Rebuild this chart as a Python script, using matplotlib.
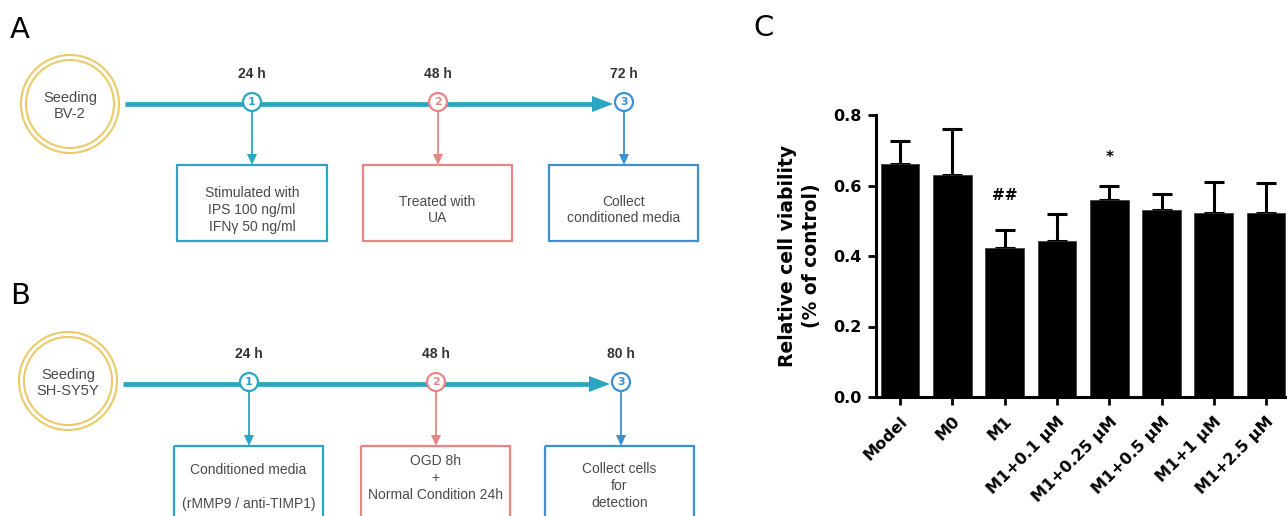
import matplotlib
matplotlib.use('Agg')
import matplotlib.pyplot as plt
from matplotlib.patches import Circle, Rectangle, Polygon

# ---- data ----
groups = ['Model', 'M0', 'M1', 'M1+0.1 μM', 'M1+0.25 μM', 'M1+0.5 μM', 'M1+1 μM', 'M1+2.5 μM']
viability = [0.662, 0.631, 0.424, 0.443, 0.560, 0.531, 0.521, 0.523]
err_up = [0.064, 0.129, 0.050, 0.075, 0.040, 0.044, 0.090, 0.084]
marks = {2: ('##', 0.573), 4: ('*', 0.680)}

times_a = ['24 h', '48 h', '72 h']
times_b = ['24 h', '48 h', '80 h']
boxes_a = ['Stimulated with\nIPS 100 ng/ml\nIFNγ 50 ng/ml', 'Treated with\nUA', 'Collect\nconditioned media']
boxes_b = ['Conditioned media\n\n(rMMP9 / anti-TIMP1)', 'OGD 8h\n+\nNormal Condition 24h',
           'Collect cells\nfor\ndetection']
seed_a = 'Seeding\nBV-2'
seed_b = 'Seeding\nSH-SY5Y'

# Colors
teal = '#2aa5c2'
pink = '#e98585'
blue = '#3b8fd3'
gold = '#ecca6a'
txt = '#4a4a4a'
node_colors = [teal, pink, blue]

narrow = ['Liberation Sans Narrow', 'Liberation Sans', 'DejaVu Sans']

fig = plt.figure(figsize=(12.87, 5.16), dpi=100)

# full-figure axes in pixel units for the schematics
bg = fig.add_axes([0, 0, 1, 1])
bg.set_xlim(0, 1287)
bg.set_ylim(516, 0)
bg.axis('off')


def timeline(y_line, cx, cy, seed, nodes_x, times, boxes, box_x, box_top, box_bot, arrow_tip, text_y):
    # double ring
    bg.add_patch(Circle((cx, cy), 49, fill=False, edgecolor=gold, linewidth=1.5))
    bg.add_patch(Circle((cx, cy), 44, fill=False, edgecolor=gold, linewidth=1.5))
    bg.text(cx, cy + 2, seed, ha='center', va='center', fontsize=10.5, color=txt,
            family=narrow, linespacing=1.15)

    # main arrow
    bg.plot([cx + 55, arrow_tip - 20], [y_line, y_line], color=teal, linewidth=3.4,
            solid_capstyle='butt', zorder=2)
    bg.add_patch(Polygon([[arrow_tip - 21, y_line - 8], [arrow_tip, y_line],
                          [arrow_tip - 21, y_line + 8]], closed=True,
                         facecolor=teal, edgecolor='none', zorder=2))

    for i, nx in enumerate(nodes_x):
        c = node_colors[i]
        bg.add_patch(Circle((nx, y_line - 2), 9, facecolor='white', edgecolor=c,
                            linewidth=1.6, zorder=3))
        bg.text(nx, y_line - 2, str(i + 1), ha='center', va='center', fontsize=8,
                fontweight='bold', color=c, zorder=4)
        bg.text(nx, y_line - 30, times[i], ha='center', va='center', fontsize=10,
                fontweight='bold', color='#333333', family=narrow)

        # vertical arrow down to the box
        x0, x1 = box_x[i]
        bx = (x0 + x1) / 2
        bg.plot([nx, nx], [y_line + 7, box_top - 10], color=c, linewidth=1.3, zorder=2)
        bg.add_patch(Polygon([[nx - 5, box_top - 11], [nx + 5, box_top - 11], [nx, box_top]],
                             closed=True, facecolor=c, edgecolor='none', zorder=2))

        bg.add_patch(Rectangle((x0, box_top), x1 - x0, box_bot - box_top, fill=False,
                               edgecolor=c, linewidth=1.6))
        bg.text(bx, text_y[i], boxes[i], ha='center', va='center', fontsize=10,
                color=txt, family=narrow, linespacing=1.25)


timeline(104, 70, 104, seed_a, [252, 438, 624], times_a, boxes_a,
         [(177, 327), (363, 512), (549, 698)], 165, 241, 613, [210, 210, 210])
timeline(384, 68, 381, seed_b, [249, 436, 621], times_b, boxes_b,
         [(174, 323), (361, 510), (545, 694)], 446, 530, 610, [487, 478, 486])

# panel letters
for lab, x, y in [('A', 20, 30), ('B', 20, 296), ('C', 764, 28)]:
    bg.text(x, y, lab, ha='center', va='center', fontsize=21, color='black')

# ---- bar chart ----
ax = fig.add_axes([876 / 1287, 1 - 397 / 516, 410 / 1287, (397 - 115) / 516])
xpos = list(range(len(groups)))
ax.bar(xpos, viability, width=0.74, color='black', edgecolor='#333333', linewidth=0.5, zorder=2)
ax.errorbar(xpos, viability, yerr=[[0] * len(groups), err_up], fmt='none', ecolor='black',
            elinewidth=2.2, capsize=7.5, capthick=2.2, zorder=1)
for i, (s, yv) in marks.items():
    ax.text(i, yv, s, ha='center', va='center', fontsize=11, fontweight='bold')

ax.set_xlim(-0.46, 7.38)
ax.set_ylim(0, 0.8)
ax.set_yticks([0.0, 0.2, 0.4, 0.6, 0.8])
ax.set_yticklabels(['0.0', '0.2', '0.4', '0.6', '0.8'], fontsize=11.5, fontweight='bold')
ax.set_xticks(xpos)
ax.set_xticklabels(groups, rotation=45, ha='right', va='top', rotation_mode='anchor',
                   fontsize=11.5, fontweight='bold')
ax.tick_params(axis='both', direction='out', width=2, length=6, pad=4)
ax.tick_params(axis='x', pad=6)
for side in ['top', 'right']:
    ax.spines[side].set_visible(False)
for side in ['left', 'bottom']:
    ax.spines[side].set_linewidth(2.2)
ax.set_ylabel('Relative cell viability\n(% of control)', fontsize=13.5, fontweight='bold',
              labelpad=9, linespacing=1.35)
ax.patch.set_alpha(0)

fig.savefig('out.png', dpi=100, facecolor='white')
